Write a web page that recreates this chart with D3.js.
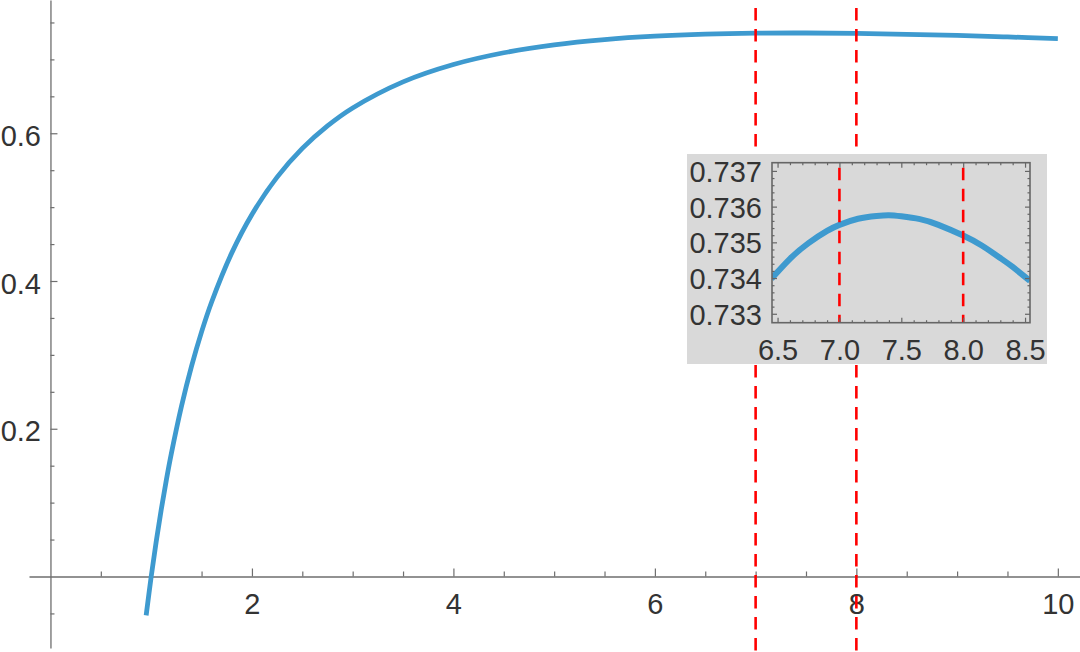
<!DOCTYPE html>
<html>
<head>
<meta charset="utf-8">
<script src="https://cdn.jsdelivr.net/npm/d3@7"></script>
<style>
  body { margin: 0; background: #fff; }
  svg text { font-family: "Liberation Sans", Arial, sans-serif; }
</style>
</head>
<body>
<svg id="chart" width="1080" height="652"></svg>
<script>
// ---- data ----
const mainX = [0.95, 1, 1.05, 1.1, 1.15, 1.2, 1.3, 1.4, 1.5, 1.6, 1.8, 2, 2.25, 2.5, 2.75, 3, 3.5, 4, 4.5, 5, 5.5, 6, 6.5, 7, 7.5, 8, 8.5, 9, 9.5, 10];
const mainY = [-0.0526, 0, 0.0476, 0.0909, 0.1303, 0.1664, 0.2301, 0.2844, 0.3311, 0.3716, 0.4381, 0.4901, 0.5406, 0.5795, 0.6100, 0.6343, 0.6696, 0.6931, 0.7090, 0.7198, 0.7269, 0.7315, 0.7342, 0.7355, 0.7357, 0.7352, 0.7340, 0.7324, 0.7304, 0.7281];

const insetX = [6.45, 6.6, 6.75, 6.9, 7.0, 7.15, 7.3, 7.4, 7.5, 7.65, 7.8, 8.0, 8.15, 8.3, 8.4, 8.54];
const insetY = [0.73398, 0.73454, 0.73498, 0.73532, 0.73549, 0.73566, 0.73574, 0.73576, 0.73573, 0.73565, 0.73549, 0.73519, 0.73491, 0.73456, 0.73431, 0.73392];

const markerX = [7, 8];

const xMajorTicks = [2, 4, 6, 8, 10];
const yMajorTicks = [0.2, 0.4, 0.6];
const insetXTicks = [6.5, 7.0, 7.5, 8.0, 8.5];
const insetYTicks = [0.733, 0.734, 0.735, 0.736, 0.737];

// ---- styles ----
const BLUE = "#3e9acf";
const RED = "#ff0000";
const AXIS = "#6e6e6e";
const LABEL = "#333333";
const FS = 29;

const svg = d3.select("#chart");

// ---- main scales ----
const x = d3.scaleLinear().domain([-0.213, 10.22]).range([29, 1080]);
const y = d3.scaleLinear().domain([-0.0968, 0.7804]).range([648, 0]);

const xMinor = d3.range(1, 21).map(i => i * 0.5).filter(v => !xMajorTicks.includes(v));
const yMinor = d3.range(-1, 16).map(i => +(i * 0.05).toFixed(2)).filter(v => v !== 0 && !yMajorTicks.includes(v));

function styleAxis(g) {
  g.selectAll(".domain").attr("stroke", AXIS).attr("stroke-width", 1.3);
  g.selectAll(".tick line").attr("stroke", AXIS).attr("stroke-width", 1.2);
  g.selectAll(".tick text").attr("fill", LABEL).attr("font-size", FS)
    .attr("font-family", "'Liberation Sans', Arial, sans-serif");
}

// x axis (crosses at y=0)
const gx = svg.append("g").attr("transform", `translate(0,${y(0)})`)
  .call(d3.axisBottom(x).tickValues(xMajorTicks).tickSizeInner(-8).tickSizeOuter(0).tickPadding(16.5).tickFormat(d3.format("d")));
styleAxis(gx);
const gxm = svg.append("g").attr("transform", `translate(0,${y(0)})`)
  .call(d3.axisBottom(x).tickValues(xMinor).tickSizeInner(-5).tickSizeOuter(0).tickFormat(""));
gxm.select(".domain").remove();
styleAxis(gxm);

// y axis (crosses at x=0)
const gy = svg.append("g").attr("transform", `translate(${x(0)},0)`)
  .call(d3.axisLeft(y).tickValues(yMajorTicks).tickSizeInner(-7).tickSizeOuter(0).tickPadding(9.5).tickFormat(d3.format(".1f")));
styleAxis(gy);
gy.selectAll(".tick text").attr("dy", "0.42em");
const gym = svg.append("g").attr("transform", `translate(${x(0)},0)`)
  .call(d3.axisLeft(y).tickValues(yMinor).tickSizeInner(-4).tickSizeOuter(0).tickFormat(""));
gym.select(".domain").remove();
styleAxis(gym);

// main curve
const mainData = mainX.map((v, i) => [v, mainY[i]]);
const line = d3.line().x(d => x(d[0])).y(d => y(d[1])).curve(d3.curveCatmullRom.alpha(0.5));
svg.append("path").datum(mainData).attr("d", line)
  .attr("fill", "none").attr("stroke", BLUE).attr("stroke-width", 4.8)
  .attr("stroke-linejoin", "round");

// red dashed markers
svg.append("g").selectAll("line").data(markerX).join("line")
  .attr("x1", d => x(d)).attr("x2", d => x(d))
  .attr("y1", 0).attr("y2", 652)
  .attr("stroke", RED).attr("stroke-width", 2.6)
  .attr("stroke-dasharray", "12.5,8.5").attr("stroke-dashoffset", -8);

// ---- inset ----
const inset = svg.append("g");
inset.append("rect").attr("x", 687).attr("y", 154).attr("width", 360).attr("height", 210).attr("fill", "#d9d9d9");

const xi = d3.scaleLinear().domain([6.455, 8.54]).range([772, 1030]);
const yi = d3.scaleLinear().domain([0.73275, 0.73723]).range([322.7, 162.7]);

const defs = svg.append("defs");
defs.append("clipPath").attr("id", "insetClip").append("rect")
  .attr("x", xi.range()[0]).attr("y", yi.range()[1])
  .attr("width", xi.range()[1] - xi.range()[0]).attr("height", yi.range()[0] - yi.range()[1]);

const plot = inset.append("g").attr("clip-path", "url(#insetClip)");
const insetData = insetX.map((v, i) => [v, insetY[i]]);
const iline = d3.line().x(d => xi(d[0])).y(d => yi(d[1])).curve(d3.curveNatural);
plot.append("path").datum(insetData).attr("d", iline)
  .attr("fill", "none").attr("stroke", BLUE).attr("stroke-width", 6);
plot.selectAll("line.mk").data(markerX).join("line").attr("class", "mk")
  .attr("x1", d => xi(d)).attr("x2", d => xi(d))
  .attr("y1", yi.range()[1]).attr("y2", yi.range()[0])
  .attr("stroke", RED).attr("stroke-width", 2.6)
  .attr("stroke-dasharray", "12.5,8.5").attr("stroke-dashoffset", -5);

const ixMinor = d3.range(65, 86).map(i => +(i / 10).toFixed(1)).filter(v => !insetXTicks.includes(v));
const iyMinor = d3.range(0, 21).map(i => +(0.733 + i * 0.0002).toFixed(4)).filter(v => !insetYTicks.includes(v));

const FRAME = "#666666";
function styleFrame(g, keepText) {
  g.selectAll(".domain").remove();
  g.selectAll(".tick line").attr("stroke", FRAME).attr("stroke-width", 1.2);
  if (keepText) {
    g.selectAll(".tick text").attr("fill", LABEL).attr("font-size", FS)
      .attr("font-family", "'Liberation Sans', Arial, sans-serif");
  } else {
    g.selectAll(".tick text").remove();
  }
}
const yb = yi.range()[0], yt = yi.range()[1], xl = xi.range()[0], xr = xi.range()[1];

// bottom
styleFrame(inset.append("g").attr("transform", `translate(0,${yb})`)
  .call(d3.axisBottom(xi).tickValues(insetXTicks).tickSizeInner(-5).tickSizeOuter(0).tickPadding(16.5).tickFormat(d3.format(".1f"))), true);
styleFrame(inset.append("g").attr("transform", `translate(0,${yb})`)
  .call(d3.axisBottom(xi).tickValues(ixMinor).tickSizeInner(-2.5).tickSizeOuter(0).tickFormat("")), false);
// top
styleFrame(inset.append("g").attr("transform", `translate(0,${yt})`)
  .call(d3.axisTop(xi).tickValues(insetXTicks).tickSizeInner(-5).tickSizeOuter(0)), false);
styleFrame(inset.append("g").attr("transform", `translate(0,${yt})`)
  .call(d3.axisTop(xi).tickValues(ixMinor).tickSizeInner(-2.5).tickSizeOuter(0)), false);
// left
const gil = inset.append("g").attr("transform", `translate(${xl},0)`)
  .call(d3.axisLeft(yi).tickValues(insetYTicks).tickSizeInner(-5).tickSizeOuter(0).tickPadding(10).tickFormat(d3.format(".3f")));
styleFrame(gil, true);
gil.selectAll(".tick text").attr("dy", "0.36em");
styleFrame(inset.append("g").attr("transform", `translate(${xl},0)`)
  .call(d3.axisLeft(yi).tickValues(iyMinor).tickSizeInner(-2.5).tickSizeOuter(0)), false);
// right
styleFrame(inset.append("g").attr("transform", `translate(${xr},0)`)
  .call(d3.axisRight(yi).tickValues(insetYTicks).tickSizeInner(-5).tickSizeOuter(0)), false);
styleFrame(inset.append("g").attr("transform", `translate(${xr},0)`)
  .call(d3.axisRight(yi).tickValues(iyMinor).tickSizeInner(-2.5).tickSizeOuter(0)), false);

// frame
inset.append("rect").attr("x", xl).attr("y", yt).attr("width", xr - xl).attr("height", yb - yt)
  .attr("fill", "none").attr("stroke", FRAME).attr("stroke-width", 1.6);
</script>
</body>
</html>
